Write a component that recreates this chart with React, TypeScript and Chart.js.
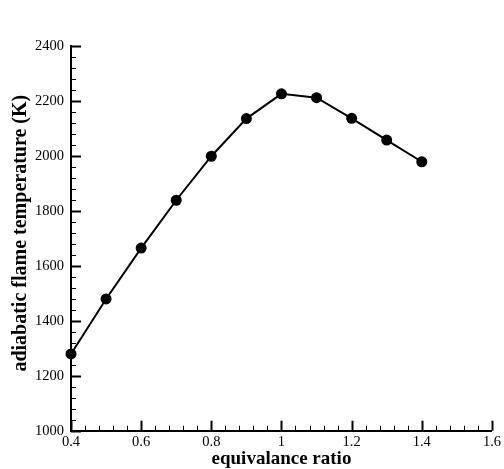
import React, { useEffect, useRef } from "react";
import { Chart, registerables } from "chart.js";

Chart.register(...registerables);

const equivalenceRatio = [0.4, 0.5, 0.6, 0.7, 0.8, 0.9, 1.0, 1.1, 1.2, 1.3, 1.4];
const flameTemperature = [1279, 1479, 1664, 1838, 1998, 2135, 2225, 2211, 2136, 2057, 1978];

const xMin = 0.4;
const xMax = 1.6;
const xMajorStep = 0.2;
const xMinorPerMajor = 5;
const yMin = 1000;
const yMax = 2400;
const yMajorStep = 200;
const yMinorPerMajor = 5;

const xTitle = "equivalance ratio";
const yTitle = "adiabatic flame temperature (K)";

const SERIF = "'Liberation Serif', 'Times New Roman', serif";

const inwardTicks = {
  id: "inwardTicks",
  afterDatasetsDraw(chart: any) {
    const { ctx, chartArea } = chart;
    const xs = chart.scales.x;
    const ys = chart.scales.y;
    ctx.save();
    ctx.strokeStyle = "#000";
    const xCount = Math.round(((xMax - xMin) / xMajorStep) * xMinorPerMajor);
    for (let i = 0; i <= xCount; i++) {
      const v = xMin + (i * xMajorStep) / xMinorPerMajor;
      const px = Math.round(xs.getPixelForValue(v)) + 0.5;
      const major = i % xMinorPerMajor === 0;
      ctx.lineWidth = major ? 2 : 1;
      ctx.beginPath();
      ctx.moveTo(px, chartArea.bottom);
      ctx.lineTo(px, chartArea.bottom - (major ? 10 : 5));
      ctx.stroke();
    }
    const yCount = Math.round(((yMax - yMin) / yMajorStep) * yMinorPerMajor);
    for (let i = 0; i <= yCount; i++) {
      const v = yMin + (i * yMajorStep) / yMinorPerMajor;
      const py = Math.round(ys.getPixelForValue(v)) + 0.5;
      const major = i % yMinorPerMajor === 0;
      ctx.lineWidth = major ? 2 : 1;
      ctx.beginPath();
      ctx.moveTo(chartArea.left, py);
      ctx.lineTo(chartArea.left + (major ? 10 : 5), py);
      ctx.stroke();
    }
    // y-axis title
    ctx.save();
    ctx.translate(20.5, (chartArea.top + chartArea.bottom) / 2 - 5);
    ctx.rotate(-Math.PI / 2);
    ctx.fillStyle = "#000";
    ctx.font = "bold 20px " + SERIF;
    ctx.textAlign = "center";
    ctx.textBaseline = "middle";
    ctx.fillText(yTitle, 0, 0);
    ctx.restore();
    ctx.restore();
  },
};

export default function App() {
  const canvasRef = useRef<HTMLCanvasElement | null>(null);

  useEffect(() => {
    if (!canvasRef.current) return;
    const chart = new Chart(canvasRef.current, {
      type: "line",
      data: {
        datasets: [
          {
            data: equivalenceRatio.map((x, i) => ({ x, y: flameTemperature[i] })),
            borderColor: "#000",
            backgroundColor: "#000",
            borderWidth: 2,
            pointRadius: 5.5,
            pointBackgroundColor: "#000",
            pointBorderColor: "#000",
            pointBorderWidth: 0,
            fill: false,
            tension: 0,
            clip: false,
          },
        ],
      },
      options: {
        animation: false,
        responsive: true,
        maintainAspectRatio: false,
        layout: { autoPadding: false, padding: { top: 45.7, right: 11, left: 0, bottom: 0 } },
        plugins: {
          legend: { display: false },
          tooltip: { enabled: false },
        },
        scales: {
          x: {
            type: "linear",
            min: xMin,
            max: xMax,
            afterFit: (s: any) => {
              s.height = 469 - 430.7;
            },
            grid: { display: false, drawTicks: false },
            border: { display: true, color: "#000", width: 2 },
            ticks: {
              stepSize: xMajorStep,
              padding: 3,
              color: "#000",
              maxRotation: 0,
              autoSkip: false,
              font: { family: SERIF, size: 14.5 },
              callback: (v: any) => String(Math.round(Number(v) * 10) / 10),
            },
            title: {
              display: true,
              text: xTitle,
              color: "#000",
              font: { family: SERIF, size: 19, weight: "bold", lineHeight: 1 },
              padding: { top: 0, bottom: 0 },
            },
          },
          y: {
            type: "linear",
            min: yMin,
            max: yMax,
            afterFit: (s: any) => {
              s.width = 71;
            },
            grid: { display: false, drawTicks: false },
            border: { display: true, color: "#000", width: 2 },
            ticks: {
              stepSize: yMajorStep,
              padding: 7,
              color: "#000",
              autoSkip: false,
              font: { family: SERIF, size: 14.5 },
              callback: (v: any) => String(v),
            },
            title: { display: false },
          },
        },
      },
      plugins: [inwardTicks],
    });
    return () => chart.destroy();
  }, []);

  return (
    <div style={{ position: "fixed", left: 0, top: 0, width: 504, height: 469, background: "#fff" }}>
      <canvas ref={canvasRef} />
    </div>
  );
}
